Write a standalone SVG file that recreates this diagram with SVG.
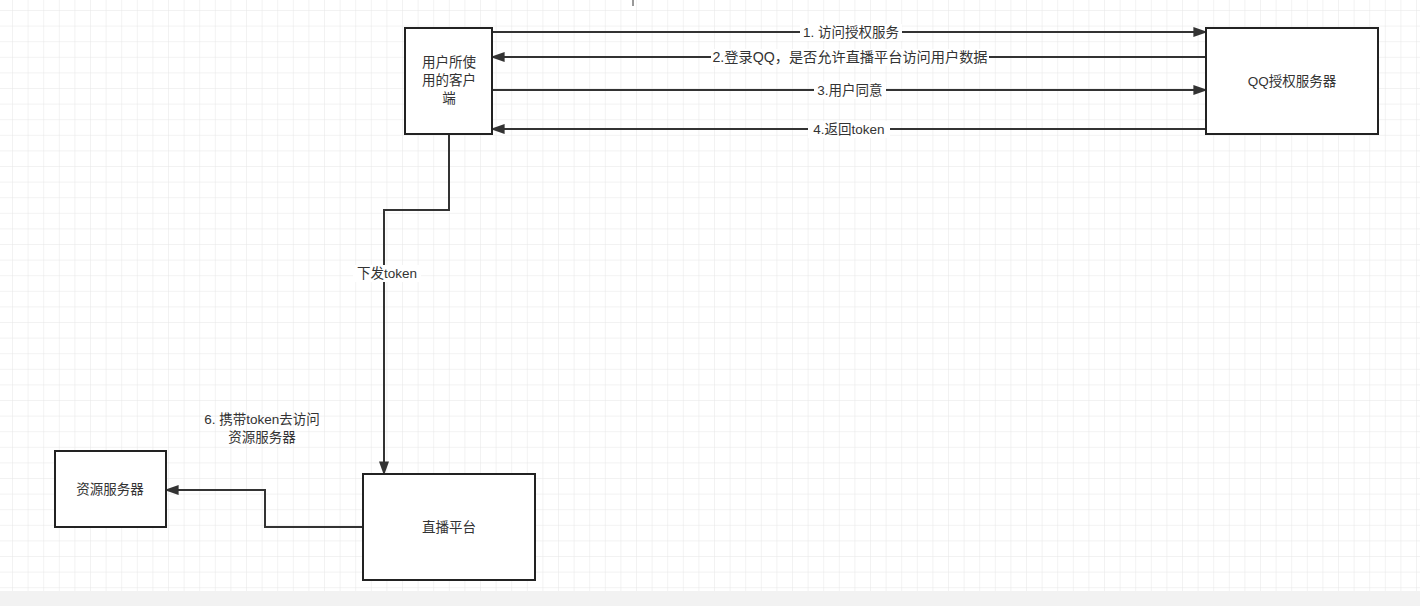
<svg xmlns="http://www.w3.org/2000/svg" width="1420" height="606" viewBox="0 0 1420 606">
<defs>
<pattern id="g" x="12" y="10" width="15.6" height="15.6" patternUnits="userSpaceOnUse"><path d="M0 0H15.6M0 0V15.6" fill="none" stroke="#e6e6e6" stroke-width="1"/></pattern>
<marker id="b" viewBox="0 0 10 10" refX="9" refY="5" markerWidth="14" markerHeight="10" orient="auto" markerUnits="userSpaceOnUse" preserveAspectRatio="none"><path d="M0 0L10 5L0 10z" fill="#333"/></marker>
</defs>
<style>
.n{fill:#fff;stroke:#222;stroke-width:2}
.e{fill:none;stroke:#333;stroke-width:2;marker-end:url(#b)}
.bg{fill:#fff}
text{font-family:"Liberation Sans","Noto Sans CJK SC",sans-serif;font-size:13.5px;fill:#333;text-anchor:middle}
</style>
<rect width="1420" height="606" fill="#fff"/>
<rect width="1420" height="591" fill="url(#g)"/>
<rect y="591" width="1420" height="15" fill="#f2f2f2"/>
<path d="M633 0V6" stroke="#333" stroke-width="1"/>
<g id="connectors">
<path class="e" d="M492 32H1206"/>
<path class="e" d="M1206 57H492"/>
<path class="e" d="M492 90H1206"/>
<path class="e" d="M1206 129H492"/>
<path class="e" d="M449 134V210H384V474"/>
<path class="e" d="M363 527H265V490H166"/>
<rect class="bg" x="800" y="24" width="102" height="17"/>
<rect class="bg" x="711" y="49" width="278" height="17"/>
<rect class="bg" x="814" y="82" width="72" height="17"/>
<rect class="bg" x="808" y="121" width="82" height="17"/>
<rect class="bg" x="353" y="265" width="68" height="17"/>
<text x="851" y="37">1. 访问授权服务</text>
<text x="850" y="62" style="font-size:14.2px">2.登录QQ，是否允许直播平台访问用户数据</text>
<text x="850" y="95">3.用户同意</text>
<text x="849" y="134">4.返回token</text>
<text x="387" y="278">下发token</text>
<text x="262" y="424">6. 携带token去访问</text>
<text x="262" y="442">资源服务器</text>
</g>
<g id="client"><rect class="n" x="405" y="28" width="87" height="106"/><text x="449" y="67">用户所使</text><text x="449" y="85">用的客户</text><text x="449" y="103">端</text></g>
<g id="qq"><rect class="n" x="1206" y="28" width="172" height="106"/><text x="1292" y="86">QQ授权服务器</text></g>
<g id="resource"><rect class="n" x="55" y="451" width="111" height="76"/><text x="110" y="494">资源服务器</text></g>
<g id="live"><rect class="n" x="363" y="474" width="172" height="106"/><text x="449" y="532">直播平台</text></g>
</svg>
